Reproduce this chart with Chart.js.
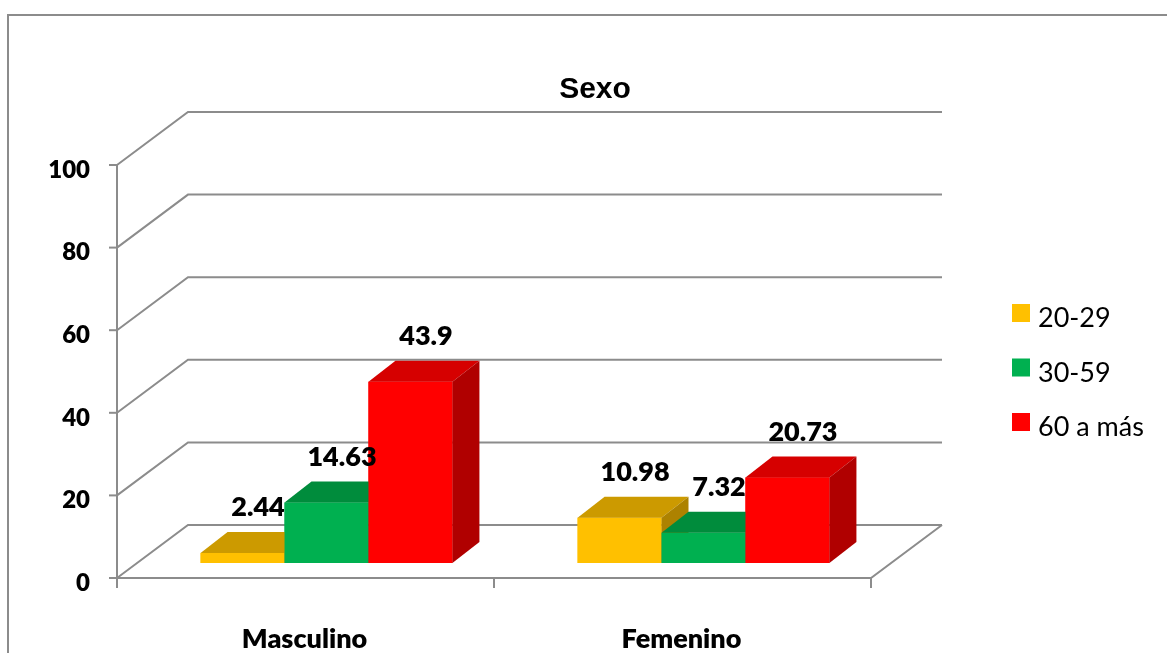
<!DOCTYPE html>
<html>
<head>
<meta charset="utf-8">
<script src="https://cdn.jsdelivr.net/npm/chart.js@4.4.0/dist/chart.umd.min.js"></script>
<style>
  html, body { margin: 0; padding: 0; background: #fff; overflow: hidden; }
  #wrap { position: relative; width: 1167px; height: 653px; }
  #wrap canvas { position: absolute; left: 0; top: 0; }
  #frame { position: absolute; left: 7px; top: 14px; width: 1200px; height: 700px;
           border: 2px solid #8c8c8c; box-sizing: border-box; pointer-events: none; }
</style>
</head>
<body>
<div id="wrap">
  <canvas id="sexoChart" width="1167" height="653"></canvas>
  <div id="frame"></div>
</div>
<script>
const chartTitle = 'Sexo';
const categories = ['Masculino', 'Femenino'];
const seriesNames = ['20-29', '30-59', '60 a más'];
const values2029 = [2.44, 10.98];
const values3059 = [14.63, 7.32];
const values60 = [43.9, 20.73];
const yTicks = [0, 20, 40, 60, 80, 100];

const frontColors = ['#FFC000', '#00B050', '#FF0000'];
const topColors = ['#CC9A00', '#008C3C', '#D60000'];
const sideColors = ['#AD8200', '#007832', '#B00000'];

// floor / wall offsets relative to the plane the bars stand in
const FLOOR = { fx: -21, fy: 15, bx: 50, by: -38 };
// depth of each bar
const BAR = { dx: 27, dy: 21 };
const GRID_COLOR = '#8c8c8c';

Chart.defaults.font.family = 'Lato';
Chart.defaults.color = '#000';

const threeD = {
    id: 'threeD',
    beforeDatasetsDraw(chart) {
        const { ctx, chartArea: a, scales: { y } } = chart;
        ctx.save();
        ctx.strokeStyle = GRID_COLOR;
        ctx.lineWidth = 2;

        // back wall gridlines with their slanted side-wall part
        y.ticks.forEach(t => {
            const py = y.getPixelForValue(t.value);
            ctx.beginPath();
            ctx.moveTo(a.left + FLOOR.fx, py + FLOOR.fy);
            ctx.lineTo(a.left + FLOOR.bx, py + FLOOR.by);
            ctx.lineTo(a.right + FLOOR.bx, py + FLOOR.by);
            ctx.stroke();
            ctx.beginPath();
            ctx.moveTo(a.left + FLOOR.fx - 8, py + FLOOR.fy);
            ctx.lineTo(a.left + FLOOR.fx, py + FLOOR.fy);
            ctx.stroke();
        });

        const y0 = y.getPixelForValue(yTicks[0]);
        const yMax = y.getPixelForValue(yTicks[yTicks.length - 1]);

        // vertical axis line
        ctx.beginPath();
        ctx.moveTo(a.left + FLOOR.fx, yMax + FLOOR.fy);
        ctx.lineTo(a.left + FLOOR.fx, y0 + FLOOR.fy);
        ctx.stroke();

        // floor front and right edges
        ctx.beginPath();
        ctx.moveTo(a.left + FLOOR.fx, y0 + FLOOR.fy);
        ctx.lineTo(a.right + FLOOR.fx, y0 + FLOOR.fy);
        ctx.lineTo(a.right + FLOOR.bx, y0 + FLOOR.by);
        ctx.stroke();

        // category tick marks
        const step = (a.right - a.left) / categories.length;
        for (let i = 0; i <= categories.length; i++) {
            const px = a.left + i * step + FLOOR.fx;
            ctx.beginPath();
            ctx.moveTo(px, y0 + FLOOR.fy);
            ctx.lineTo(px, y0 + FLOOR.fy + 10);
            ctx.stroke();
        }
        ctx.restore();
    },
    afterDatasetsDraw(chart) {
        const { ctx } = chart;
        ctx.save();
        const metas = chart.data.datasets.map((d, i) => chart.getDatasetMeta(i));

        // draw bars left to right so the faces overlap like the original
        categories.forEach((c, ci) => {
            metas.forEach((meta, di) => {
                const bar = meta.data[ci];
                const { x, y, base, width } = bar.getProps(['x', 'y', 'base', 'width'], true);
                const x0 = x - width / 2, x1 = x + width / 2;

                ctx.fillStyle = frontColors[di];
                ctx.fillRect(x0, y, width, base - y);

                ctx.fillStyle = topColors[di];
                ctx.beginPath();
                ctx.moveTo(x0, y);
                ctx.lineTo(x1, y);
                ctx.lineTo(x1 + BAR.dx, y - BAR.dy);
                ctx.lineTo(x0 + BAR.dx, y - BAR.dy);
                ctx.closePath();
                ctx.fill();

                ctx.fillStyle = sideColors[di];
                ctx.beginPath();
                ctx.moveTo(x1, y);
                ctx.lineTo(x1 + BAR.dx, y - BAR.dy);
                ctx.lineTo(x1 + BAR.dx, base - BAR.dy);
                ctx.lineTo(x1, base);
                ctx.closePath();
                ctx.fill();
            });
        });

        // value labels above each bar
        ctx.font = '800 27px Lato';
        ctx.fillStyle = '#000';
        ctx.textAlign = 'center';
        ctx.textBaseline = 'middle';
        metas.forEach((meta, di) => {
            const data = chart.data.datasets[di].data;
            meta.data.forEach((bar, ci) => {
                const { x, y } = bar.getProps(['x', 'y'], true);
                ctx.fillText(String(data[ci]), x + BAR.dx / 2 + 2, y - BAR.dy / 2 - 35);
            });
        });
        ctx.restore();
    },
    afterDraw(chart) {
        const { ctx } = chart;
        ctx.save();

        // title
        ctx.font = 'bold 30px "Liberation Sans", Arial, sans-serif';
        ctx.fillStyle = '#000';
        ctx.textAlign = 'center';
        ctx.textBaseline = 'alphabetic';
        ctx.fillText(chartTitle, 595, 98);

        // legend
        ctx.font = '27px Lato';
        ctx.textAlign = 'left';
        chart.data.datasets.forEach((ds, i) => {
            const top = 304 + i * 54.5;
            ctx.fillStyle = ds.backgroundColor;
            ctx.fillRect(1012, top, 18, 18);
            ctx.fillStyle = '#000';
            ctx.fillText(ds.label, 1038, top + 23);
        });
        ctx.restore();
    }
};

const ctx = document.getElementById('sexoChart').getContext('2d');

new Chart(ctx, {
    type: 'bar',
    data: {
        labels: categories,
        datasets: [
            { label: seriesNames[0], data: values2029, backgroundColor: frontColors[0] },
            { label: seriesNames[1], data: values3059, backgroundColor: frontColors[1] },
            { label: seriesNames[2], data: values60, backgroundColor: frontColors[2] }
        ]
    },
    options: {
        responsive: false,
        animation: false,
        devicePixelRatio: 1,
        layout: { padding: { top: 150, right: 275, bottom: 0, left: 0 } },
        datasets: {
            bar: { categoryPercentage: 0.668, barPercentage: 1, borderWidth: 0 }
        },
        plugins: {
            legend: { display: false },
            title: { display: false },
            tooltip: { enabled: false }
        },
        scales: {
            x: {
                grid: { display: false, drawTicks: false },
                border: { display: false },
                ticks: {
                    font: { size: 27, weight: 800 },
                    padding: 60,
                    labelOffset: -22,
                    maxRotation: 0
                },
                afterFit: scale => { scale.height = 90; }
            },
            y: {
                min: yTicks[0],
                max: yTicks[yTicks.length - 1],
                grid: { display: false, drawTicks: false },
                border: { display: false },
                afterBuildTicks: scale => { scale.ticks = yTicks.map(v => ({ value: v })); },
                ticks: {
                    font: { size: 24, weight: 800 },
                    padding: 48,
                    labelOffset: 20
                },
                afterFit: scale => { scale.width = 138; }
            }
        }
    },
    plugins: [threeD]
});
</script>
</body>
</html>
